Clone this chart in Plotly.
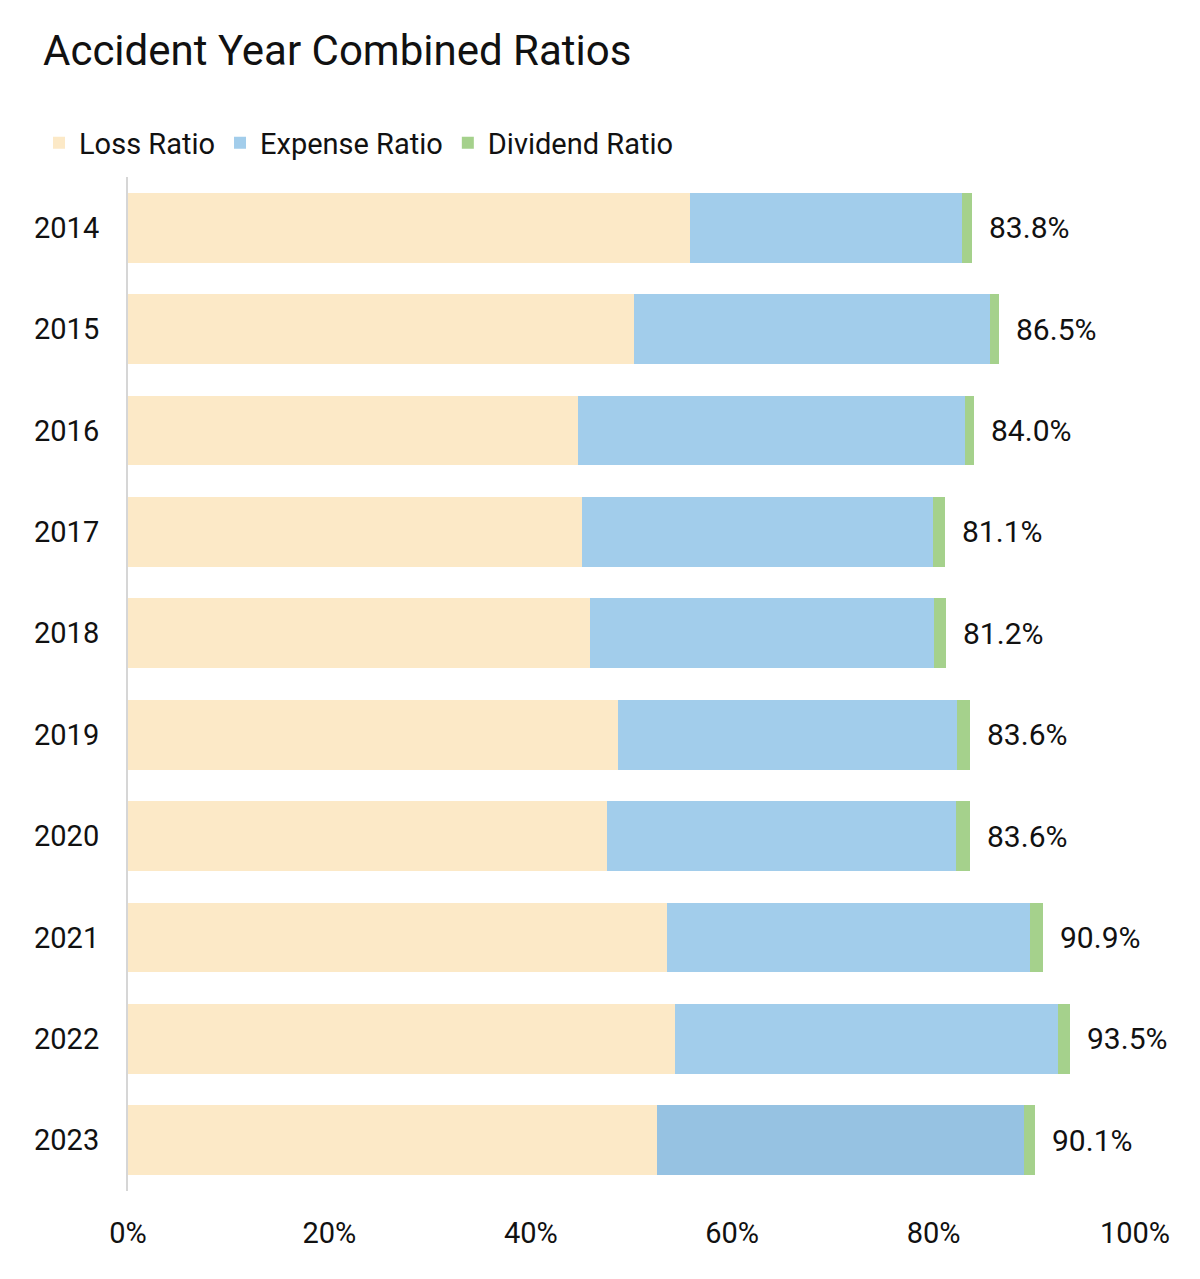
import plotly.graph_objects as go

years = ["2014", "2015", "2016", "2017", "2018", "2019", "2020", "2021", "2022", "2023"]
loss_ratio = [55.8, 50.2, 44.7, 45.1, 45.9, 48.7, 47.6, 53.5, 54.3, 52.5]
expense_ratio = [27.0, 35.4, 38.4, 34.8, 34.1, 33.6, 34.6, 36.1, 38.1, 36.5]
dividend_ratio = [1.0, 0.9, 0.9, 1.2, 1.2, 1.3, 1.4, 1.3, 1.1, 1.1]
combined_labels = ["83.8%", "86.5%", "84.0%", "81.1%", "81.2%", "83.6%", "83.6%", "90.9%", "93.5%", "90.1%"]
x_ticks = [0, 20, 40, 60, 80, 100]
x_tick_labels = ["0%", "20%", "40%", "60%", "80%", "100%"]

FONT = "Roboto"
pos = list(range(len(years)))
expense_colors = ["#A2CDEB"] * (len(years) - 1) + ["#96C2E2"]

fig = go.Figure()
fig.add_trace(go.Bar(y=pos, x=loss_ratio, orientation="h", name="Loss Ratio",
                     marker=dict(color="#FCE9C7", line=dict(width=0))))
fig.add_trace(go.Bar(y=pos, x=expense_ratio, orientation="h", name="Expense Ratio",
                     marker=dict(color=expense_colors, line=dict(width=0))))
fig.add_trace(go.Bar(y=pos, x=dividend_ratio, orientation="h", name="Dividend Ratio",
                     marker=dict(color="#A5D18C", line=dict(width=0))))

for p, l, e, d, lab in zip(pos, loss_ratio, expense_ratio, dividend_ratio, combined_labels):
    fig.add_annotation(x=l + e + d, y=p, text=lab, showarrow=False, xanchor="left",
                       xshift=15, font=dict(family=FONT, size=30, color="#111111"))

fig.update_layout(
    width=1200, height=1279,
    barmode="stack", bargap=0.31,
    paper_bgcolor="white", plot_bgcolor="white",
    margin=dict(l=120, r=73, t=169, b=96, autoexpand=False),
    font=dict(family=FONT, color="#111111"),
    title=dict(text="Accident Year Combined Ratios", xref="container", yref="container",
               x=35 / 1200, xanchor="left", y=1 - 42 / 1279, yanchor="middle",
               font=dict(family=FONT, size=42, color="#111111")),
    legend=dict(orientation="h", xref="container", yref="container",
                x=31 / 1200, xanchor="left", y=1 - 135 / 1279, yanchor="middle",
                font=dict(family=FONT, size=29, color="#111111"),
                traceorder="normal", itemwidth=30, bgcolor="rgba(0,0,0,0)"),
    showlegend=True,
)
fig.update_xaxes(range=[0, 100], tickvals=x_ticks, ticktext=x_tick_labels,
                 showgrid=False, zeroline=False, showline=False,
                 tickfont=dict(family=FONT, size=29, color="#111111"), ticklen=0,
                 ticklabelstandoff=22)
fig.update_yaxes(type="linear", range=[len(years) - 0.5, -0.5],
                 tickvals=pos, ticktext=years,
                 showgrid=False, zeroline=False, showline=True, linecolor="#D6D6D6", linewidth=2,
                 tickfont=dict(family=FONT, size=29, color="#111111"), ticks="",
                 ticklabelstandoff=21)

fig.write_html("out.html")
